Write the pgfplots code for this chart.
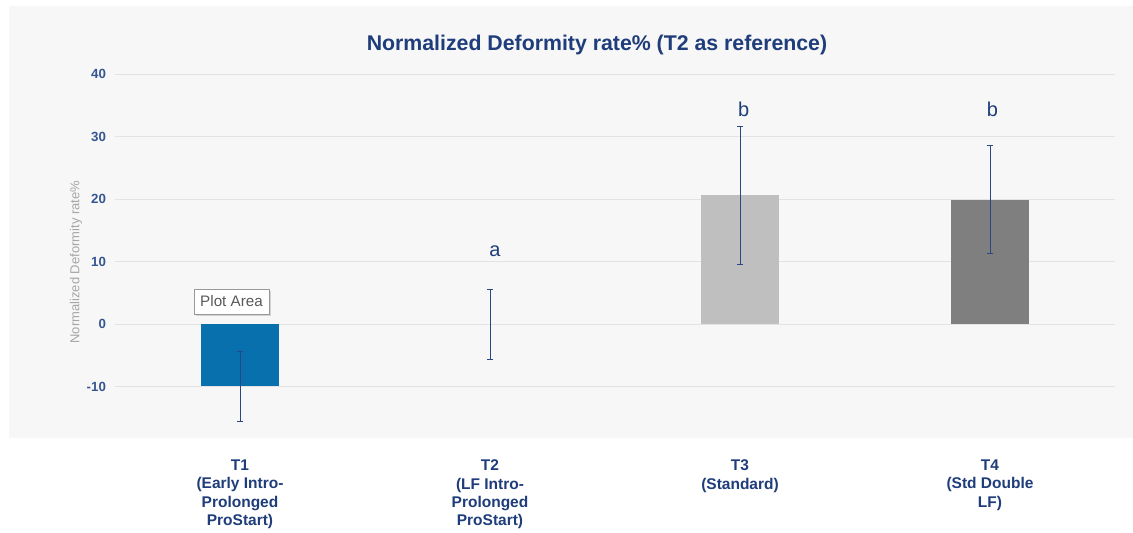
\documentclass[border=0pt]{standalone}
\usepackage{pgfplots}
\pgfplotsset{compat=1.18}
\usepackage{fontspec}
\setmainfont{Liberation Sans}
\usetikzlibrary{shadows}
\definecolor{bgpanel}{HTML}{F7F7F7}
\definecolor{titleblue}{HTML}{1F3D7A}
\definecolor{tickblue}{HTML}{365692}
\definecolor{errblue}{HTML}{2A4785}
\definecolor{gridc}{HTML}{E3E3E3}
\definecolor{barA}{HTML}{0870AC}
\definecolor{barC}{HTML}{BFBFBF}
\definecolor{barD}{HTML}{7F7F7F}
\definecolor{ylabgray}{HTML}{A6A6A6}
\begin{document}
\begin{tikzpicture}[x=1pt,y=1pt]
\useasboundingbox (0,0) rectangle (1133,533);
\fill[white] (0,0) rectangle (1133,533);
\fill[bgpanel] (9,95) rectangle (1133,527);
\begin{axis}[
  at={(115pt,96.5pt)}, anchor=south west,
  scale only axis, width=1000pt, height=362.5pt,
  xmin=-0.5, xmax=3.5, ymin=-18, ymax=40,
  ytick={-10,0,10,20,30,40},
  xtick={0,1,2,3},
  xticklabels={{T1\\(Early Intro-\\Prolonged\\ProStart)},{T2\\(LF Intro-\\Prolonged\\ProStart)},{T3\\(Standard)},{T4\\(Std Double\\LF)}},
  xticklabel style={align=center, font=\bfseries\fontsize{15.5}{18.3}\selectfont, text=titleblue, anchor=north, yshift=-20pt},
  yticklabel style={font=\bfseries\fontsize{13.3}{15}\selectfont, text=tickblue, xshift=-5.5pt},
  /pgf/number format/assume math mode=true,
  axis line style={draw=none},
  major tick length=0pt,
  ymajorgrids, grid style={gridc, line width=0.9pt},
  title={\bfseries Normalized Deformity rate\% (T2 as reference)},
  title style={at={(axis description cs:0.482,1.0635)}, anchor=center, font=\fontsize{21.3}{25}\selectfont, text=titleblue},
  ylabel={Normalized Deformity rate\%},
  every axis y label/.style={at={(axis description cs:-0.039,0.481)}, rotate=90, anchor=center, font=\fontsize{13}{15}\selectfont, text=ylabgray},
  ybar, bar width=78pt, bar shift=0pt,
  error bars/y dir=both, error bars/y explicit,
  error bars/error bar style={errblue, line width=0.9pt},
  error bars/error mark options={rotate=90, mark size=3pt, errblue, line width=0.9pt},
  clip=false,
]
\addplot[fill=barA, draw=none] coordinates {(0,-10) +- (0,5.65)};
\addplot[fill=none, draw=none] coordinates {(1,0) +- (0,5.6)};
\addplot[fill=barC, draw=none] coordinates {(2,20.6) +- (0,11.0)};
\addplot[fill=barD, draw=none] coordinates {(3,19.9) +- (0,8.65)};
\node[text=titleblue, font=\fontsize{20}{24}\selectfont] at (axis cs:1.02,11.6) {a};
\node[text=titleblue, font=\fontsize{20}{24}\selectfont] at (axis cs:2.015,34.3) {b};
\node[text=titleblue, font=\fontsize{20}{24}\selectfont] at (axis cs:3.01,34.3) {b};
\node[draw=gray!80, fill=white, line width=0.8pt, minimum width=75pt, minimum height=25pt, inner sep=0pt, font=\fontsize{15.2}{17}\selectfont, text=black!65, drop shadow={shadow xshift=2pt, shadow yshift=-2pt, opacity=0.3}] at (axis cs:-0.034,3.6) {Plot Area};
\end{axis}
\end{tikzpicture}
\end{document}
